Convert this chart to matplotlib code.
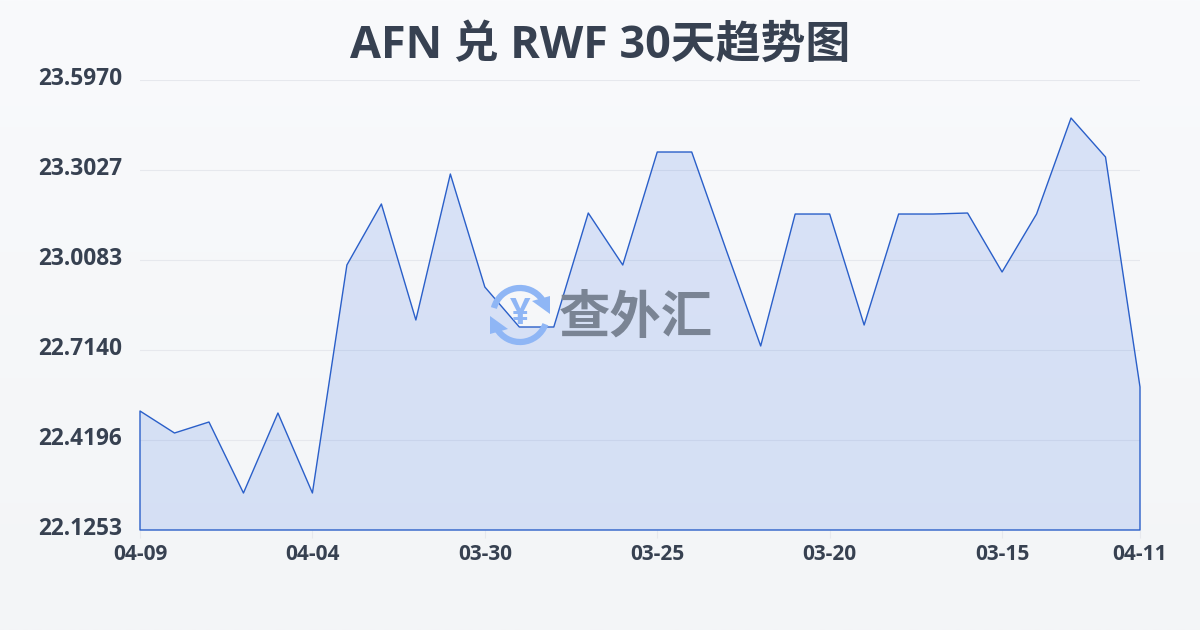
import numpy as np
import matplotlib
matplotlib.use('Agg')
import matplotlib.pyplot as plt
from matplotlib.patches import Arc, Polygon
from matplotlib.transforms import ScaledTranslation

plt.rcParams['font.family'] = ['Open Sans', 'Noto Sans CJK SC', 'DejaVu Sans']

title = 'AFN 兑 RWF 30天趋势图'
values = [22.5145, 22.4425, 22.4785, 22.2463, 22.5079, 22.2463, 22.9920, 23.1915, 22.8121, 23.2896,
          22.9200, 22.7892, 22.7892, 23.1620, 22.9920, 23.3615, 23.3615, 23.0410, 22.7271, 23.1587,
          23.1587, 22.7957, 23.1587, 23.1587, 23.1620, 22.9691, 23.1587, 23.4727, 23.3452, 22.5930]
y_ticks = [22.1253, 22.4196, 22.7140, 23.0083, 23.3027, 23.5970]
x_ticks = [0, 5, 10, 15, 20, 25, 29]
x_labels = ['04-09', '04-04', '03-30', '03-25', '03-20', '03-15', '04-11']

text_color = '#374151'
line_color = '#2a5fc9'

fig = plt.figure(figsize=(12, 6.3), dpi=100)

# background gradient
bg = fig.add_axes([0, 0, 1, 1], zorder=0)
grad = np.linspace(0, 1, 256).reshape(-1, 1)
top = np.array([249, 250, 252]) / 255
bottom = np.array([243, 245, 247]) / 255
bg.imshow(top + (bottom - top) * grad[:, :, None], aspect='auto', extent=[0, 1, 0, 1])
bg.axis('off')

ax = fig.add_axes([140 / 1200, 1 - 530 / 630, 1000 / 1200, 450 / 630], zorder=1)
ax.patch.set_alpha(0)
x = np.arange(len(values))
ax.set_xlim(0, 29)
ax.set_ylim(y_ticks[0], y_ticks[-1])
ax.fill_between(x, values, y_ticks[0], facecolor='#3f74e6', alpha=0.17, linewidth=0, zorder=2)
ax.fill_between(x, values, y_ticks[0], facecolor='none', edgecolor=line_color, linewidth=1.0,
                zorder=3, clip_on=False)
ax.grid(axis='y', color='#e6e8ed', linewidth=0.8)
ax.set_axisbelow(True)
for s in ax.spines.values():
    s.set_visible(False)
ax.set_yticks(y_ticks)
ax.set_yticklabels(['%.4f' % v for v in y_ticks], fontsize=16.3, fontweight='bold', color=text_color,
                   va='center')
ax.set_xticks(x_ticks)
ax.set_xticklabels(x_labels, fontsize=15, fontweight='bold', color=text_color)
ax.tick_params(axis='y', length=0, pad=13)
ax.tick_params(axis='x', length=6, color='#e6e8ed', pad=4)
for lab in ax.get_yticklabels():
    lab.set_transform(lab.get_transform() + ScaledTranslation(0, 1 / 100, fig.dpi_scale_trans))

fig.text(600 / 1200, 1 - 46 / 630, title, fontsize=32.3, fontweight='bold', color=text_color,
         ha='center', va='center')

# watermark, in pixel coordinates
wm = fig.add_axes([0, 0, 1, 1], zorder=3)
wm.set_xlim(0, 1200)
wm.set_ylim(630, 0)
wm.axis('off')
blue = '#8fb6f5'
wm.add_patch(Arc((520, 315), 54, 54, theta1=195, theta2=325, color=blue, lw=4.5))
wm.add_patch(Arc((520, 315), 54, 54, theta1=20, theta2=150, color=blue, lw=4.5))
wm.add_patch(Polygon([[490, 316], [490, 334], [508, 329]], color=blue, lw=0))
wm.add_patch(Polygon([[550, 314], [550, 296], [532, 301]], color=blue, lw=0))
wm.text(520, 315, '¥', fontsize=26, fontweight='bold', color=blue, ha='center', va='center')
wm.text(636, 320, '查外汇', fontsize=37, fontweight='bold', color='#7a8494', ha='center', va='center')

fig.savefig('out.png', dpi=100)
